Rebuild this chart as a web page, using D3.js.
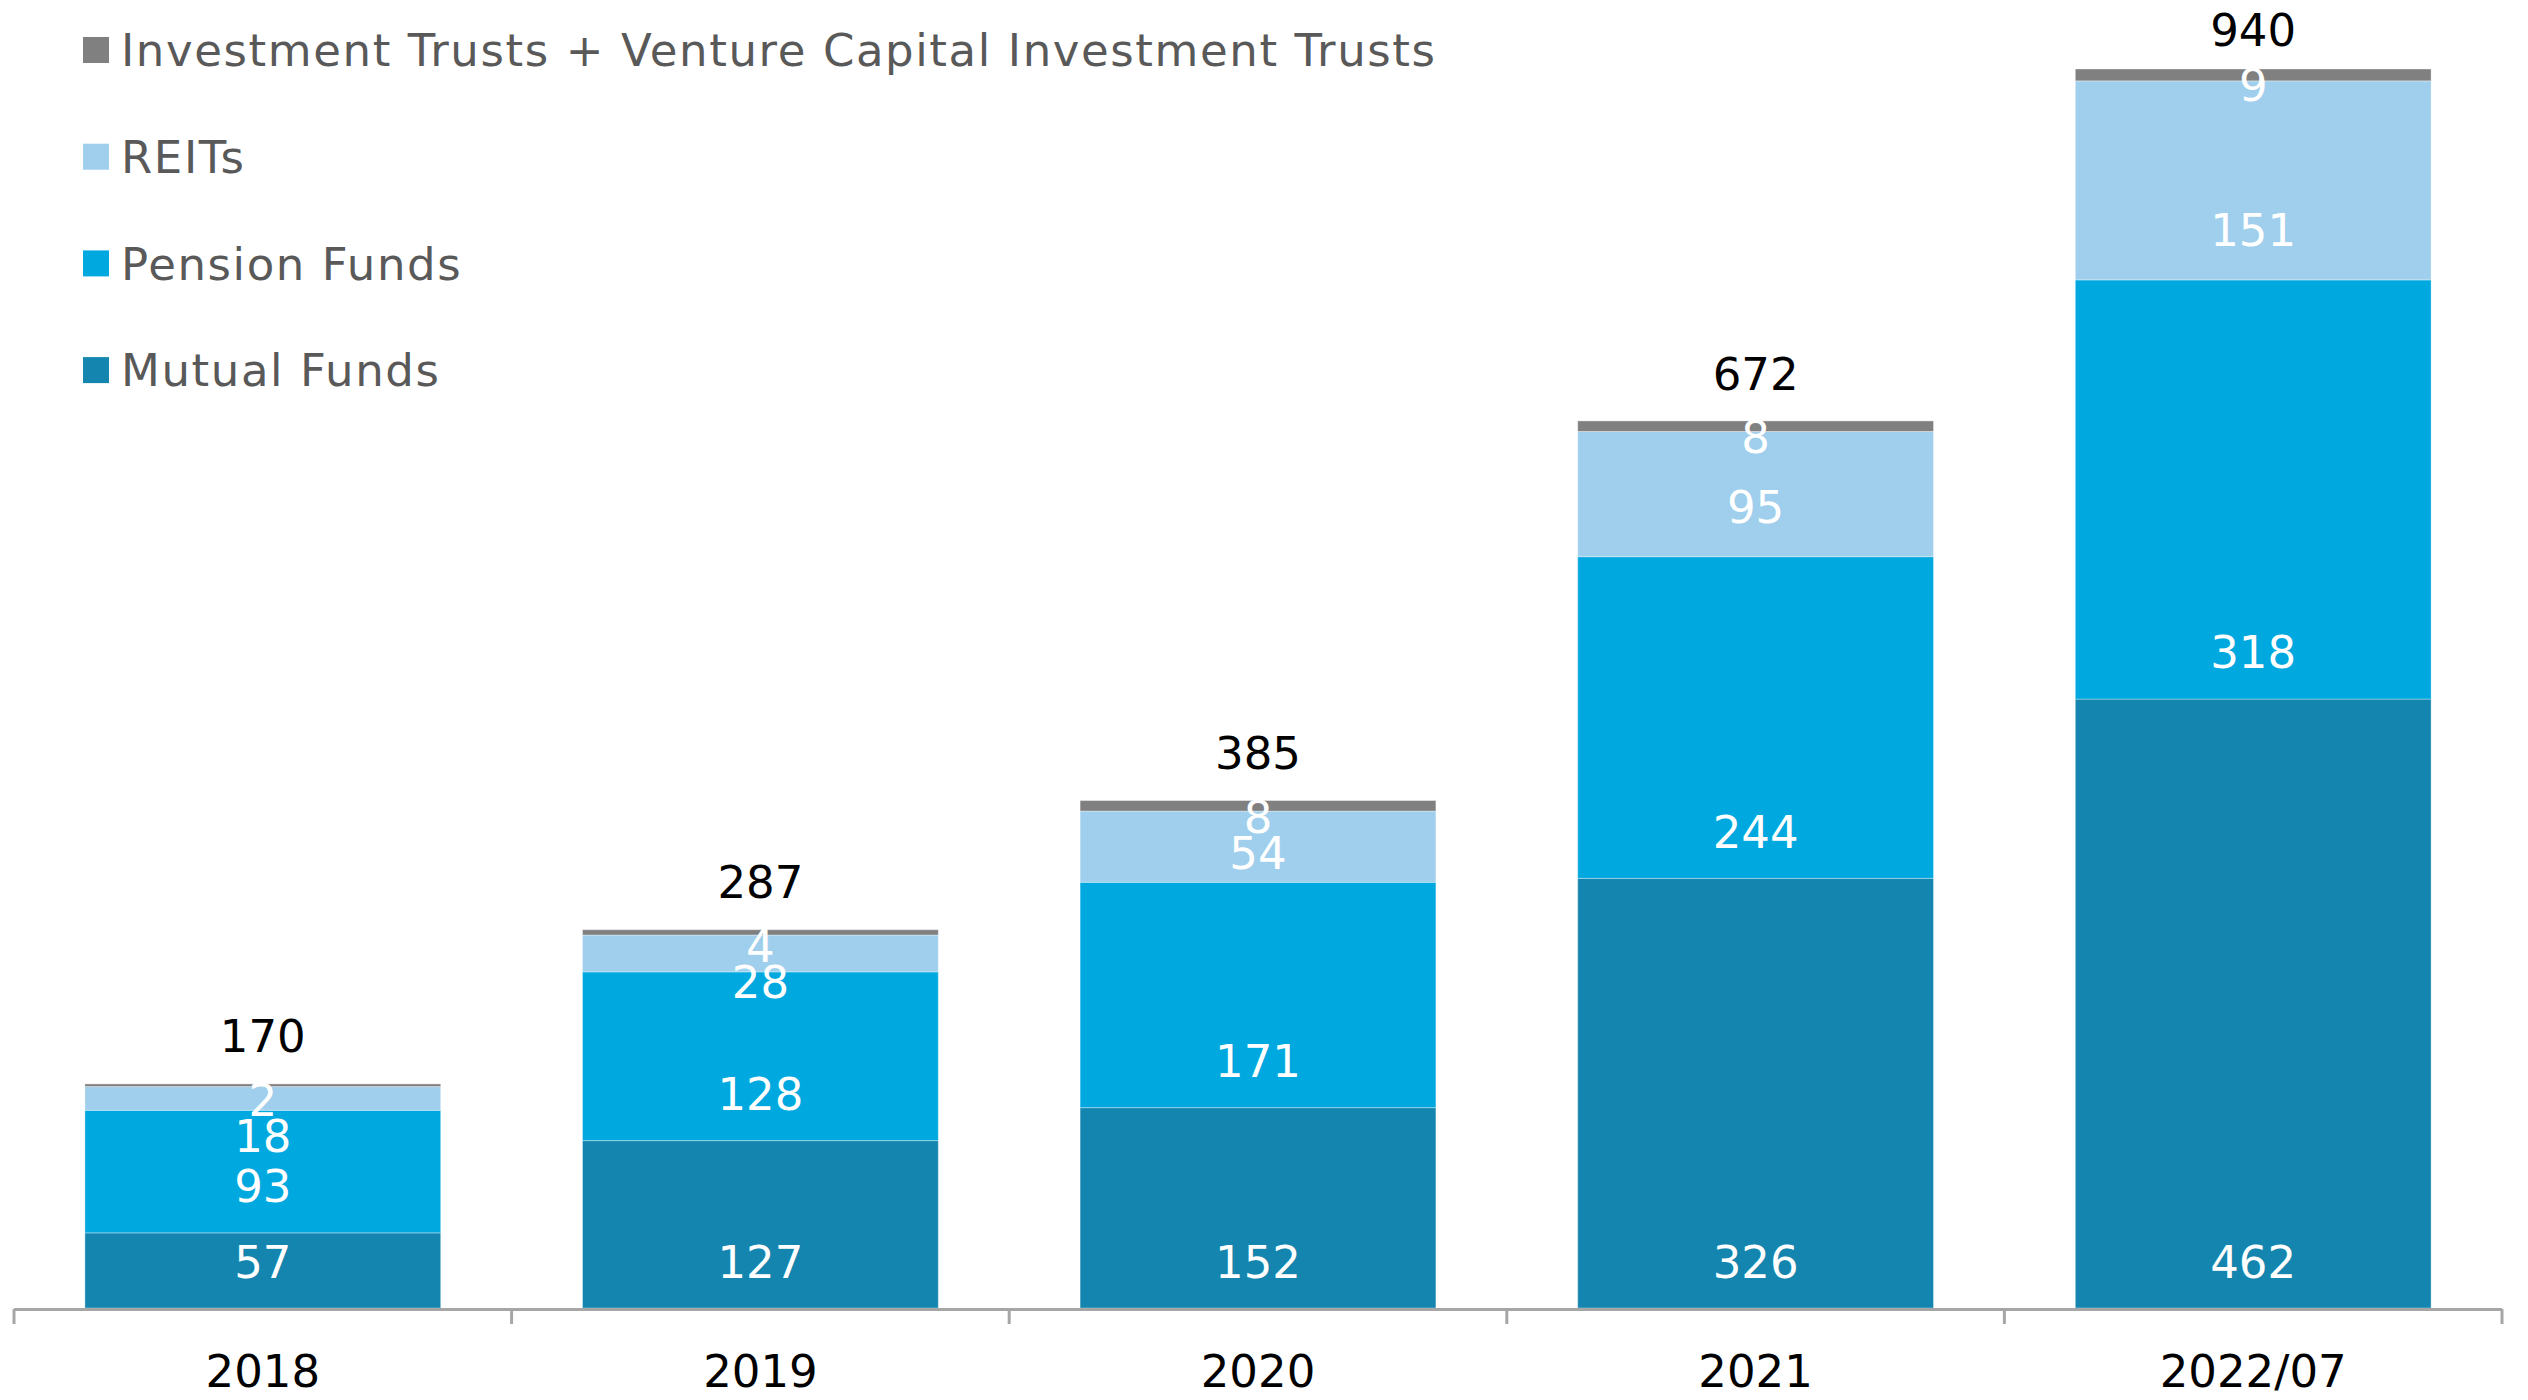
<!DOCTYPE html>
<html>
<head>
<meta charset="utf-8">
<script src="https://cdn.jsdelivr.net/npm/d3@7"></script>
<style>
  html, body { margin: 0; padding: 0; background: #ffffff; }
  svg { display: block; }
  text { font-family: Verdana, "DejaVu Sans", sans-serif; }
</style>
</head>
<body>
<svg id="chart" width="2528" height="1400"></svg>
<script>
// Period labels along the x axis
const categories = ["2018", "2019", "2020", "2021", "2022/07"];

// Stacked series, bottom to top
const mutualFunds   = [57, 127, 152, 326, 462];
const pensionFunds  = [93, 128, 171, 244, 318];
const reits         = [18, 28, 54, 95, 151];
const investTrusts  = [2, 4, 8, 8, 9];

// Bar totals shown above each stack
const totals = [170, 287, 385, 672, 940];

const seriesNames = [
  "Mutual Funds",
  "Pension Funds",
  "REITs",
  "Investment Trusts + Venture Capital Investment Trusts"
];
const seriesValues = [mutualFunds, pensionFunds, reits, investTrusts];
const seriesColors = ["#1485ae", "#00a8e0", "#9fcfec", "#808080"];

const svg = d3.select("#chart");

const x = d3.scaleBand()
  .domain(categories)
  .range([14, 2502])
  .paddingInner(0.285)
  .paddingOuter(0.1425);

const y = d3.scaleLinear()
  .domain([0, 940])
  .range([1308, 69]);

// Build stack input rows
const rows = categories.map((c, i) => {
  const r = { cat: c };
  seriesNames.forEach((n, s) => { r[n] = seriesValues[s][i]; });
  return r;
});
const stacked = d3.stack().keys(seriesNames)(rows);

const FS = 45;

// Bars
const layers = svg.append("g").selectAll("g")
  .data(stacked)
  .join("g")
  .attr("fill", (d, i) => seriesColors[i]);

layers.selectAll("rect")
  .data(d => d)
  .join("rect")
  .attr("x", d => x(d.data.cat))
  .attr("width", x.bandwidth())
  .attr("y", d => y(d[1]))
  .attr("height", d => y(d[0]) - y(d[1]))
  .attr("stroke", "rgba(255,255,255,0.35)")
  .attr("stroke-width", 1);

// Segment value labels: inside the base of each segment,
// the thin top segment labelled just under its top edge,
// REITs pushed down when it would collide with the top label.
const labelG = svg.append("g")
  .attr("fill", "#ffffff")
  .attr("font-size", FS)
  .attr("text-anchor", "middle");

categories.forEach((c, i) => {
  const cx = x(c) + x.bandwidth() / 2;
  const seg = stacked.map(s => s[i]);
  const topLabelY = y(seg[3][1]) + 16;
  const ys = [
    y(seg[0][0]) - 46,
    y(seg[1][0]) - 47,
    Math.max(y(seg[2][0]) - 50, topLabelY + 36),
    topLabelY
  ];
  seriesValues.forEach((vals, s) => {
    labelG.append("text")
      .attr("x", cx)
      .attr("y", ys[s])
      .attr("dy", "0.36em")
      .text(vals[i]);
  });
});

// Totals above each bar
svg.append("g")
  .attr("font-size", FS)
  .attr("text-anchor", "middle")
  .attr("fill", "#000000")
  .selectAll("text")
  .data(categories)
  .join("text")
  .attr("x", c => x(c) + x.bandwidth() / 2)
  .attr("y", (c, i) => Math.max(y(totals[i]) - 48, 30))
  .attr("dy", "0.36em")
  .text((c, i) => totals[i]);

// Category axis with ticks between categories
const axisG = svg.append("g");
axisG.append("line")
  .attr("x1", 14).attr("x2", 2502)
  .attr("y1", 1309.5).attr("y2", 1309.5)
  .attr("stroke", "#a6a6a6").attr("stroke-width", 3);

const boundaries = d3.range(categories.length + 1)
  .map(k => x.range()[0] + k * x.step());
axisG.selectAll("line.tick")
  .data(boundaries)
  .join("line")
  .attr("class", "tick")
  .attr("x1", d => d).attr("x2", d => d)
  .attr("y1", 1309).attr("y2", 1324)
  .attr("stroke", "#a6a6a6").attr("stroke-width", 3);

axisG.selectAll("text")
  .data(categories)
  .join("text")
  .attr("x", c => x(c) + x.bandwidth() / 2)
  .attr("y", 1387)
  .attr("text-anchor", "middle")
  .attr("font-size", FS)
  .attr("fill", "#000000")
  .text(c => c);

// Legend, top series listed first
const legendOrder = [3, 2, 1, 0];
const legend = svg.append("g");
legendOrder.forEach((s, k) => {
  const cy = 50 + k * 106.7;
  legend.append("rect")
    .attr("x", 83).attr("y", cy - 13)
    .attr("width", 26).attr("height", 26)
    .attr("fill", seriesColors[s]);
  legend.append("text")
    .attr("x", 121).attr("y", cy)
    .attr("dy", "0.36em")
    .attr("font-size", FS)
    .attr("letter-spacing", "1.6px")
    .attr("fill", "#595959")
    .text(seriesNames[s]);
});
</script>
</body>
</html>
